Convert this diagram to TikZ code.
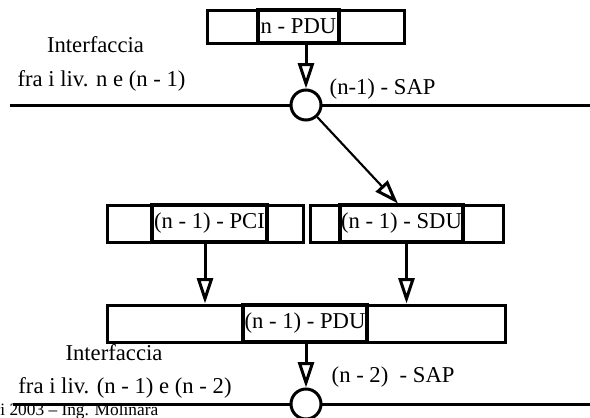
\documentclass[tikz,border=0pt]{standalone}
\usepackage{fontspec}
\setmainfont{Liberation Serif}
\usetikzlibrary{arrows.meta}

\begin{document}
\begin{tikzpicture}[x=0.75pt, y=-0.75pt,
    every node/.style={font=\fontsize{17}{20}\selectfont},
    outerbox/.style={draw, rectangle, line width=2.25pt, fill=white, inner sep=0pt},
    innerbox/.style={draw, rectangle, line width=3.4pt, inner sep=0pt},
    sap/.style={draw, circle, line width=2.25pt, fill=white, minimum size=22.5pt, inner sep=0pt},
    down/.style={line width=2.25pt, -{Triangle[open, length=19pt, width=12pt]}},
    diag/.style={line width=1.6pt, -{Triangle[open, length=18pt, width=12pt, line width=2.25pt]}},
    layer/.style={line width=2.25pt}]
    \useasboundingbox (0,0) rectangle (590,418);

    % Interfaces between the levels
    \coordinate (lineAw) at (10,105);
    \coordinate (lineAe) at (590,105);
    \coordinate (lineBw) at (13,404);
    \coordinate (lineBe) at (590,404);
    \draw[layer] (lineAw) -- (lineAe);
    \draw[layer] (lineBw) -- (lineBe);

    % Level n
    \node[outerbox, minimum width=147.75pt, minimum height=24.75pt] (npdubox) at (306,26.5) {};
    \node[innerbox, minimum width=60.75pt, minimum height=24.75pt] (npdu) at (298.5,26.5) {n - PDU};
    \node[sap] (sapA) at (306,105) {};

    % Level n - 1
    \node[outerbox, minimum width=147pt, minimum height=27.75pt] (pcibox) at (205,223.5) {};
    \node[innerbox, minimum width=86.25pt, minimum height=27.75pt] (pci) at (209.5,223.5) {(n - 1) - PCI};
    \node[outerbox, minimum width=144.75pt, minimum height=27.75pt] (sdubox) at (406.5,223.5) {};
    \node[innerbox, minimum width=92.25pt, minimum height=27.75pt] (sdu) at (401.5,223.5) {(n - 1) - SDU};
    \node[outerbox, minimum width=298.5pt, minimum height=27.75pt] (pdubox) at (306,323.5) {};
    \node[innerbox, minimum width=93pt, minimum height=27.75pt] (pdu) at (305,323.5) {(n - 1) - PDU};
    \node[sap] (sapB) at (306,404) {};

    % Arrows
    \draw[down] (npdubox.south) -- (sapA.north);
    \draw[diag] (sapA) -- ([xshift=-6.4pt]sdubox.north);
    \draw[down] (pcibox.south) -- (pcibox.south |- pdubox.north);
    \draw[down] (sdubox.south) -- (sdubox.south |- pdubox.north);
    \draw[down] (pdubox.south) -- (sapB.north);

    % Labels
    \node[anchor=base] (intA) at (95.5,52) {Interfaccia};
    \node[anchor=base] (fraA) at (101.5,86) {fra i liv. n e (n - 1)};
    \node[anchor=base west] (sapAlabel) at (325,94) {(n-1) - SAP};
    \node[anchor=base] (intB) at (114,360) {Interfaccia};
    \node[anchor=base] (fraB) at (125,393) {fra i liv. (n - 1) e (n - 2)};
    \node[anchor=base west] (sapBlabel) at (327,382) {(n - 2)\ \ - SAP};
    \node[anchor=base east, font=\fontsize{13}{15}\selectfont] (footer) at (163,415) {ri 2003 – Ing. Molinara};
\end{tikzpicture}
\end{document}
